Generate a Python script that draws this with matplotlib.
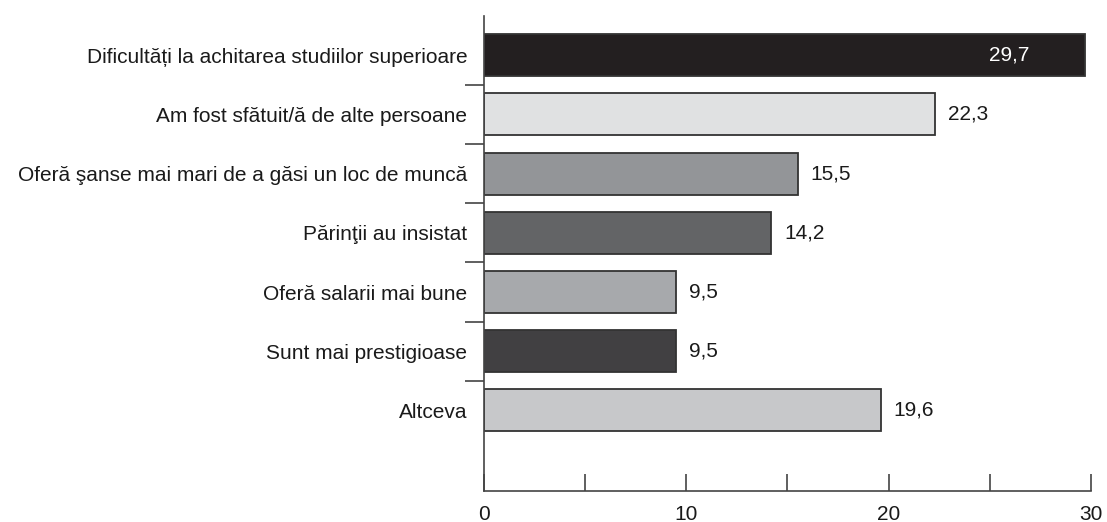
import numpy as np
import matplotlib.pyplot as plt
from matplotlib.ticker import FixedLocator

plt.rcParams['font.family'] = ['Liberation Sans', 'DejaVu Sans']

# ---------------- Data ----------------
categories = [
    "Dificultăți la achitarea studiilor superioare",
    "Am fost sfătuit/ă de alte persoane",
    "Oferă şanse mai mari de a găsi un loc de muncă",
    "Părinţii au insistat",
    "Oferă salarii mai bune",
    "Sunt mai prestigioase",
    "Altceva",
]
values = [29.7, 22.3, 15.5, 14.2, 9.5, 9.5, 19.6]
value_labels = ["29,7", "22,3", "15,5", "14,2", "9,5", "9,5", "19,6"]
bar_colors = ["#231f20", "#e0e1e2", "#939598", "#636466",
              "#a7a9ac", "#414042", "#c7c8ca"]
x_ticks = [0, 10, 20, 30]
x_minor = [5, 15, 25]

FS = 15

# ---------------- Plot ----------------
fig = plt.figure(figsize=(11.07, 5.22), dpi=100)
ax = fig.add_axes([0.4372, 0.0594, 0.5483, 0.9099])

ypos = np.arange(len(categories))
ax.barh(ypos, values, height=0.71, color=bar_colors,
        edgecolor="#333333", linewidth=1.3, zorder=2)

for i, (v, lab) in enumerate(zip(values, value_labels)):
    if i == 0:
        # the longest bar carries its label inside, in white
        ax.text(v - 3.75, i, lab, ha="center", va="center",
                color="white", fontsize=FS)
    else:
        ax.text(v + 0.65, i, lab, ha="left", va="center",
                color="#1a1a1a", fontsize=FS)

ax.set_xlim(0, 30)
ax.set_ylim(len(categories) + 0.36, -0.66)

ax.set_yticks(ypos)
ax.set_yticklabels(categories, fontsize=FS, color="#1a1a1a")
ax.tick_params(axis="y", which="major", length=0, pad=12)
ax.yaxis.set_minor_locator(FixedLocator(ypos[:-1] + 0.5))
ax.tick_params(axis="y", which="minor", length=14, width=1.2,
               color="#444444", direction="out")

ax.set_xticks(x_ticks)
ax.set_xticklabels([str(t) for t in x_ticks], fontsize=FS, color="#1a1a1a")
ax.xaxis.set_minor_locator(FixedLocator(x_minor))
ax.tick_params(axis="x", which="both", length=12, width=1.2,
               color="#444444", direction="in", pad=10)

for side in ["top", "right"]:
    ax.spines[side].set_visible(False)
for side in ["left", "bottom"]:
    ax.spines[side].set_color("#444444")
    ax.spines[side].set_linewidth(1.2)

fig.savefig("out.png", dpi=100)
